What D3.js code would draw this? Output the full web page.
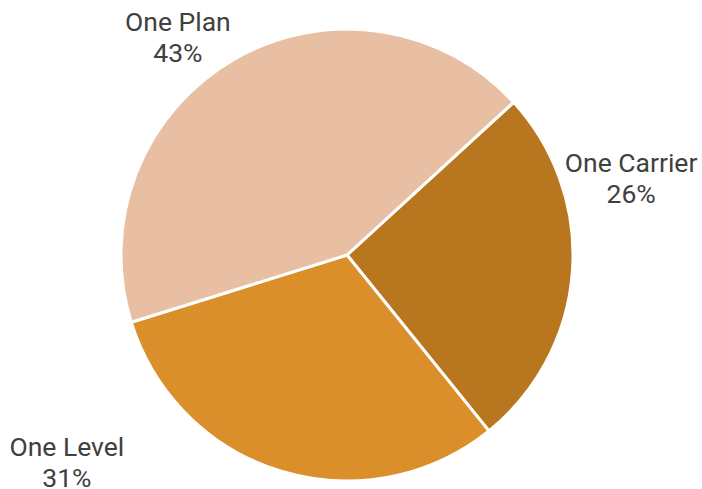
<!DOCTYPE html>
<html>
<head>
<meta charset="utf-8">
<script src="https://cdn.jsdelivr.net/npm/d3@7"></script>
<style>
  html, body { margin: 0; padding: 0; background: #fff; }
  svg { display: block; }
</style>
</head>
<body>
<svg id="chart" width="702" height="489"></svg>
<script>
// Data
const categories = ["One Carrier", "One Level", "One Plan"];
const values = [26, 31, 43];
const colors = ["#B8761F", "#DB8F2B", "#E8BFA3"];
// Label placement (polar: angle in degrees clockwise from 12 o'clock, distance from centre to first baseline)
const labelAngles = [73.7, 234.3, 323.0];
const labelDistances = [296, 345, 281];

const width = 702, height = 489;
const cx = 347, cy = 255, radius = 226;
const startDeg = 47.5;

const svg = d3.select("#chart");
const g = svg.append("g").attr("transform", `translate(${cx},${cy})`);

const pie = d3.pie()
  .sort(null)
  .value(d => d.value)
  .startAngle(startDeg * Math.PI / 180)
  .endAngle((startDeg + 360) * Math.PI / 180);

const data = categories.map((c, i) => ({ name: c, value: values[i], color: colors[i] }));
const arcs = pie(data);
const arc = d3.arc().innerRadius(0).outerRadius(radius);

g.selectAll("path.slice")
  .data(arcs)
  .join("path")
  .attr("class", "slice")
  .attr("d", arc)
  .attr("fill", d => d.data.color)
  .attr("stroke", "#ffffff")
  .attr("stroke-width", 3)
  .attr("stroke-linejoin", "round");

const total = d3.sum(values);
const fmt = d3.format(".0%");

const labels = g.selectAll("text.label")
  .data(arcs)
  .join("text")
  .attr("class", "label")
  .attr("text-anchor", "middle")
  .attr("font-family", "Roboto, 'Liberation Sans', sans-serif")
  .attr("font-size", 26.5)
  .attr("fill", "#404040")
  .attr("transform", (d, i) => {
    const a = labelAngles[i] * Math.PI / 180;
    const r = labelDistances[i];
    return `translate(${r * Math.sin(a)},${-r * Math.cos(a)})`;
  });

labels.append("tspan")
  .attr("x", 0)
  .attr("dy", 0)
  .text(d => d.data.name);
labels.append("tspan")
  .attr("x", 0)
  .attr("dy", 31)
  .text(d => fmt(d.data.value / total));
</script>
</body>
</html>
